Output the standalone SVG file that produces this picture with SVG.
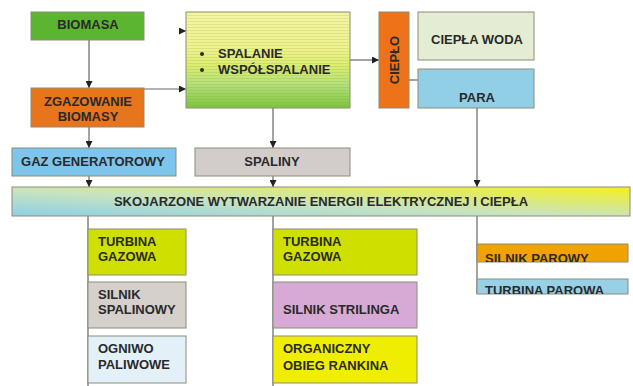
<svg xmlns="http://www.w3.org/2000/svg" width="633" height="386" viewBox="0 0 633 386">
<style>
text{font-family:"Liberation Sans",Arial,sans-serif;font-weight:bold;font-size:13px;fill:#2a2a2a}
.c{text-anchor:middle}
.box{stroke:#8c8c78;stroke-width:1}
.ln{stroke:#666;stroke-width:1.2;fill:none}
.ar{marker-end:url(#ah)}
</style>
<defs>
<marker id="ah" viewBox="0 0 10 10" refX="10" refY="5" markerWidth="7" markerHeight="7" markerUnits="userSpaceOnUse" orient="auto">
<path d="M0,0 L10,5 L0,10 z" fill="#222"/>
</marker>
<linearGradient id="gSp" x1="0" y1="0" x2="0" y2="1">
<stop offset="0" stop-color="#f6f4a4"/>
<stop offset="0.4" stop-color="#eef28e"/>
<stop offset="0.55" stop-color="#dcee70"/>
<stop offset="0.75" stop-color="#b6e07c"/>
<stop offset="1" stop-color="#7cc63c"/>
</linearGradient>
<pattern id="stripes" width="4" height="3" patternUnits="userSpaceOnUse">
<rect width="4" height="1" fill="#7a9a20" fill-opacity="0.18"/>
</pattern>
<linearGradient id="gBar" x1="0" y1="1" x2="1" y2="0">
<stop offset="0" stop-color="#8fcfe6"/>
<stop offset="0.45" stop-color="#c8e4c0"/>
<stop offset="1" stop-color="#f4f020"/>
</linearGradient>
<clipPath id="cp1"><rect x="477" y="244" width="151" height="18"/></clipPath>
<clipPath id="cp2"><rect x="477" y="279" width="151" height="15"/></clipPath>
</defs>

<g id="connectors">
<path class="ln ar" d="M89,40 V88"/>
<path class="ln ar" d="M89,127 V148"/>
<path class="ln ar" d="M144,89 H186"/>
<path class="ln ar" d="M179,31 H186" stroke="none"/>
<path class="ln ar" d="M273,108 V148"/>
<path class="ln ar" d="M350,60 H379"/>
<path class="ln" d="M409,80 H418"/>
<path class="ln ar" d="M477,108 V187"/>
<path class="ln ar" d="M89,176 V187"/>
<path class="ln ar" d="M273,176 V187"/>
<path class="ln" d="M88,216 V386"/>
<path class="ln" d="M273,216 V386"/>
<path class="ln" d="M477,216 V294"/>
</g>

<g id="biomasa">
<rect class="box" x="31" y="12" width="113" height="28" fill="#5cb531"/>
<text class="c" x="88" y="29">BIOMASA</text>
</g>

<g id="spalanie">
<rect class="box" x="186" y="12" width="164" height="96" fill="url(#gSp)" stroke="#9ab860"/>
<rect x="186.5" y="12.5" width="163" height="95" fill="url(#stripes)"/>
<circle cx="202" cy="54" r="2" fill="#2a2a2a"/>
<text x="218" y="58">SPALANIE</text>
<circle cx="202" cy="70" r="2" fill="#2a2a2a"/>
<text x="218" y="74">WSPÓŁSPALANIE</text>
</g>

<g id="zgazowanie">
<rect class="box" x="31" y="88" width="113" height="39" fill="#e8741c"/>
<text class="c" x="88" y="106">ZGAZOWANIE</text>
<text class="c" x="88" y="121">BIOMASY</text>
</g>

<g id="gaz">
<rect class="box" x="12" y="148" width="164" height="28" fill="#7dc5ec"/>
<text class="c" x="93" y="166">GAZ GENERATOROWY</text>
</g>

<g id="spaliny">
<rect class="box" x="195" y="148" width="155" height="28" fill="#d2cdcb"/>
<text class="c" x="272" y="166">SPALINY</text>
</g>

<g id="cieplo">
<rect class="box" x="379" y="12" width="30" height="96" fill="#ee7318"/>
<text class="c" transform="translate(399,60) rotate(-90)" x="0" y="0">CIEPŁO</text>
</g>

<g id="ciepla-woda">
<rect class="box" x="418" y="12" width="116" height="48" fill="#e4edd4"/>
<text class="c" x="477" y="44">CIEPŁA WODA</text>
</g>

<g id="para">
<rect class="box" x="418" y="69" width="116" height="39" fill="#90cfe6"/>
<text class="c" x="477" y="102">PARA</text>
</g>

<g id="skojarzone">
<rect class="box" x="12" y="187" width="618" height="29" fill="url(#gBar)" stroke="#a0a070"/>
<text class="c" x="321" y="206">SKOJARZONE WYTWARZANIE ENERGII ELEKTRYCZNEJ I CIEPŁA</text>
</g>

<g id="turbina-gazowa-1">
<rect class="box" x="88" y="229" width="98" height="46" fill="#cfe000"/>
<text x="98" y="246">TURBINA</text>
<text x="98" y="261">GAZOWA</text>
</g>

<g id="silnik-spalinowy">
<rect class="box" x="88" y="282" width="98" height="46" fill="#d6d0cd"/>
<text x="98" y="299">SILNIK</text>
<text x="98" y="314">SPALINOWY</text>
</g>

<g id="ogniwo">
<rect class="box" x="88" y="336" width="98" height="47" fill="#e3f0f8"/>
<text x="98" y="353">OGNIWO</text>
<text x="98" y="369">PALIWOWE</text>
</g>

<g id="turbina-gazowa-2">
<rect class="box" x="273" y="229" width="144" height="46" fill="#cfe000"/>
<text x="283" y="246">TURBINA</text>
<text x="283" y="261">GAZOWA</text>
</g>

<g id="silnik-strilinga">
<rect class="box" x="273" y="282" width="144" height="46" fill="#d7aad6"/>
<text x="283" y="314">SILNIK STRILINGA</text>
</g>

<g id="orc">
<rect class="box" x="273" y="336" width="144" height="47" fill="#f0ee00"/>
<text x="283" y="353">ORGANICZNY</text>
<text x="283" y="370">OBIEG RANKINA</text>
</g>

<g id="silnik-parowy">
<rect class="box" x="477" y="244" width="151" height="18" fill="#f0a200"/>
<text x="485" y="262.5" clip-path="url(#cp1)">SILNIK PAROWY</text>
</g>

<g id="turbina-parowa">
<rect class="box" x="477" y="279" width="151" height="15" fill="#98d1e6"/>
<text x="485" y="295" clip-path="url(#cp2)">TURBINA PAROWA</text>
</g>
</svg>
